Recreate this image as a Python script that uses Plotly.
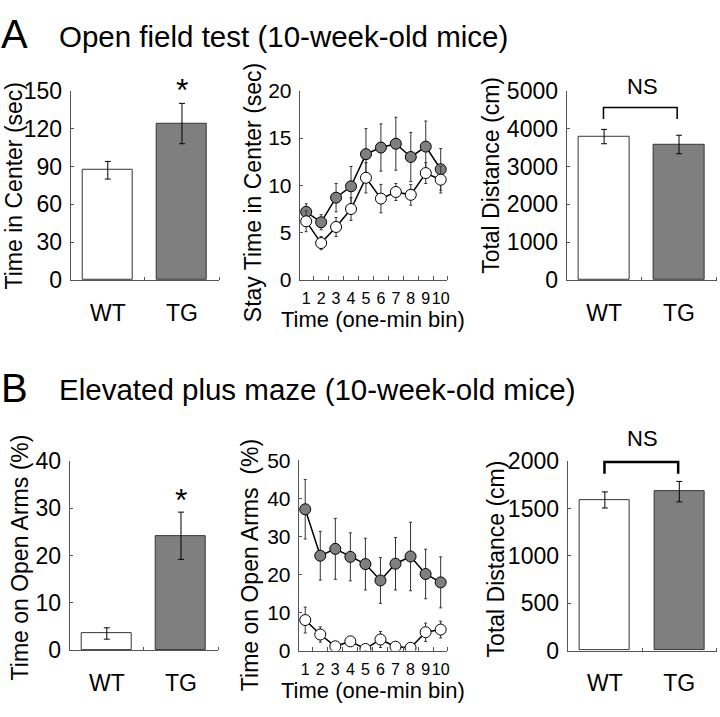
import plotly.graph_objects as go

W, H = 720, 717

groups = ["WT", "TG"]
bins = list(range(1, 11))

# Panel A
of_center_mean = [87, 124]
of_center_err = [7, 16]
of_stay_wt = [6.2, 3.9, 5.6, 7.5, 10.8, 8.6, 9.3, 9.0, 11.3, 10.6]
of_stay_wt_err = [1.1, 0.7, 1.0, 1.2, 1.6, 1.5, 0.9, 1.1, 1.1, 1.4]
of_stay_tg = [7.2, 6.1, 8.7, 9.9, 13.3, 14.0, 14.4, 13.0, 14.1, 11.7]
of_stay_tg_err = [0.85, 0.8, 1.5, 2.1, 2.7, 2.5, 2.8, 2.6, 2.7, 2.2]
of_dist_mean = [3790, 3580]
of_dist_err = [190, 245]

# Panel B
epm_open_mean = [3.5, 24.2]
epm_open_err = [1.2, 5.0]
epm_bin_wt = [8.0, 4.2, 1.1, 2.4, 0.4, 2.9, 1.0, 0.7, 4.8, 5.5]
epm_bin_wt_err = [3.4, 2.0, 0.5, 1.0, 0.4, 2.1, 0.8, 0.5, 2.4, 2.2]
epm_bin_tg = [37.1, 24.9, 26.7, 24.6, 22.7, 18.4, 22.8, 24.7, 20.1, 17.9]
epm_bin_tg_err = [7.8, 6.4, 8.0, 6.3, 6.8, 6.0, 6.9, 9.0, 6.5, 6.7]
epm_dist_mean = [1590, 1678]
epm_dist_err = [85, 108]

FONT = "Liberation Sans, Arial, sans-serif"
GRAY = "#7f7f7f"
AX = "#555555"

def px_x(a, b):
    return [a / W, b / W]

def px_y(top, bottom):
    return [1 - bottom / H, 1 - top / H]

fig = go.Figure()

panels = [
    ("1", (71, 220), (80.7, 277), "bar"),
    ("2", (301, 449), (80.7, 277), "line"),
    ("3", (569, 719.5), (80.7, 277), "bar"),
    ("4", (70, 219), (465, 661), "bar"),
    ("5", (300, 449), (464, 661.5), "line"),
    ("6", (570, 719.5), (465, 661.5), "bar"),
]

def ax_name(i):
    return ("x" if i == "1" else "x" + i), ("y" if i == "1" else "y" + i)

def add_bars(i, means, errs):
    xa, ya = ax_name(i)
    fig.add_trace(go.Bar(
        x=[0, 1], y=means, width=0.67,
        marker=dict(color=["white", GRAY], line=dict(color="#333333", width=1)),
        error_y=dict(type="data", array=errs, color="black", thickness=1, width=3),
        xaxis=xa, yaxis=ya, showlegend=False))

def add_lines(i, wt, wte, tg, tge):
    xa, ya = ax_name(i)
    fig.add_trace(go.Scatter(
        x=bins, y=tg, mode="lines+markers",
        line=dict(color="black", width=1.5),
        marker=dict(size=11, color=GRAY, line=dict(color="black", width=1)),
        error_y=dict(type="data", array=tge, color="#333333", thickness=1, width=1.5),
        xaxis=xa, yaxis=ya, showlegend=False))
    fig.add_trace(go.Scatter(
        x=bins, y=wt, mode="lines+markers",
        line=dict(color="black", width=1.5),
        marker=dict(size=11, color="white", line=dict(color="black", width=1)),
        error_y=dict(type="data", array=wte, color="#333333", thickness=1, width=1.5),
        xaxis=xa, yaxis=ya, showlegend=False))

add_bars("1", of_center_mean, of_center_err)
add_lines("2", of_stay_wt, of_stay_wt_err, of_stay_tg, of_stay_tg_err)
add_bars("3", of_dist_mean, of_dist_err)
add_bars("4", epm_open_mean, epm_open_err)
add_lines("5", epm_bin_wt, epm_bin_wt_err, epm_bin_tg, epm_bin_tg_err)
add_bars("6", epm_dist_mean, epm_dist_err)

yranges = {"1": (0, 150, 30), "2": (0, 20, 5), "3": (0, 5000, 1000),
           "4": (0, 40, 10), "5": (0, 50, 10), "6": (0, 2000, 500)}

layout = dict(
    width=W, height=H, margin=dict(l=0, r=0, t=0, b=0),
    paper_bgcolor="white", plot_bgcolor="white",
    font=dict(family=FONT, color="black", size=21),
    bargap=0, showlegend=False,
)

for i, xd, yd, kind in panels:
    xkey = "xaxis" if i == "1" else "xaxis" + i
    ykey = "yaxis" if i == "1" else "yaxis" + i
    yanchor_name = "y" if i == "1" else "y" + i
    xanchor_name = "x" if i == "1" else "x" + i
    lo, hi, dt = yranges[i]
    if kind == "bar":
        xaxis = dict(domain=px_x(*xd), anchor=yanchor_name, range=[-0.5, 1.5],
                     tickmode="array", tickvals=[0, 1], ticktext=groups,
                     ticks="", showline=True, linecolor=AX, linewidth=1,
                     showgrid=False, zeroline=False, fixedrange=True,
                     tickfont=dict(size=23), ticklabelstandoff=12,
                     minor=dict(tickmode="array", tickvals=[0.5, 1.5], ticks="inside",
                                ticklen=3, tickcolor=AX, showgrid=False))
        ytf = 23
    else:
        xaxis = dict(domain=px_x(*xd), anchor=yanchor_name, range=[0.57, 10.43],
                     tickmode="array", tickvals=bins, ticktext=[str(b) for b in bins],
                     ticks="", showline=True, linecolor=AX, linewidth=1,
                     showgrid=False, zeroline=False, fixedrange=True,
                     tickangle=0, tickfont=dict(size=16), ticklabelstandoff=4,
                     minor=dict(tickmode="array", tickvals=[b + 0.5 for b in bins[:-1]] + [10.43],
                                ticks="inside", ticklen=4, tickcolor=AX, showgrid=False))
        ytf = 21
    yaxis = dict(domain=px_y(*yd), anchor=xanchor_name, range=[lo, hi],
                 tickmode="linear", tick0=0, dtick=dt, ticks="inside", ticklen=3,
                 tickcolor=AX, showline=True, linecolor=AX, linewidth=1,
                 showgrid=False, zeroline=False, fixedrange=True,
                 tickfont=dict(size=ytf), ticklabelstandoff=3)
    layout[xkey] = xaxis
    layout[ykey] = yaxis

fig.update_layout(**layout)

def ann(text, x, y, size, angle=0, xanchor="center", yanchor="middle"):
    fig.add_annotation(text=text, x=x / W, y=1 - y / H, xref="paper", yref="paper",
                       showarrow=False, font=dict(size=size, family=FONT, color="black"),
                       textangle=angle, xanchor=xanchor, yanchor=yanchor)

# Panel letters and titles
ann("A", -1, 22, 40, xanchor="left")
ann("Open field test (10-week-old mice)", 57, 24, 29.5, xanchor="left")
ann("B", -1, 389, 40, xanchor="left")
ann("Elevated plus maze (10-week-old mice)", 57, 391, 29.5, xanchor="left")

# Y axis titles
ann("Time in Center (sec)", 14, 179, 23, angle=-90)
ann("Stay Time in Center (sec)", 254, 186, 23, angle=-90)
ann("Total Distance (cm)", 493, 168, 23, angle=-90)
ann("Time on Open Arms (%)", 20, 565, 23, angle=-90)
ann("Time on Open Arms  (%)", 251, 573, 23, angle=-90)
ann("Total Distance (cm)", 499, 566, 23, angle=-90)

# X axis titles
ann("Time (one-min bin)", 375, 318, 22)
ann("Time (one-min bin)", 375, 703, 22)

# significance marks
ann("*", 183, 80, 32)
ann("*", 182, 505, 32)
ann("NS", 645, 76, 22)
ann("NS", 645, 442, 22)

def bracket(x0, x1, ytop, ybot, width):
    fig.add_shape(type="path", xref="paper", yref="paper",
                  path=f"M {x0/W} {1-ybot/H} L {x0/W} {1-ytop/H} L {x1/W} {1-ytop/H} L {x1/W} {1-ybot/H}",
                  line=dict(color="black", width=width))

bracket(606, 680, 98, 110, 1.5)
bracket(607, 681, 466, 478, 2.5)

fig.write_html("out.html", config={"displayModeBar": False},
               post_script="document.body.style.margin='0';document.body.style.overflow='hidden';")
